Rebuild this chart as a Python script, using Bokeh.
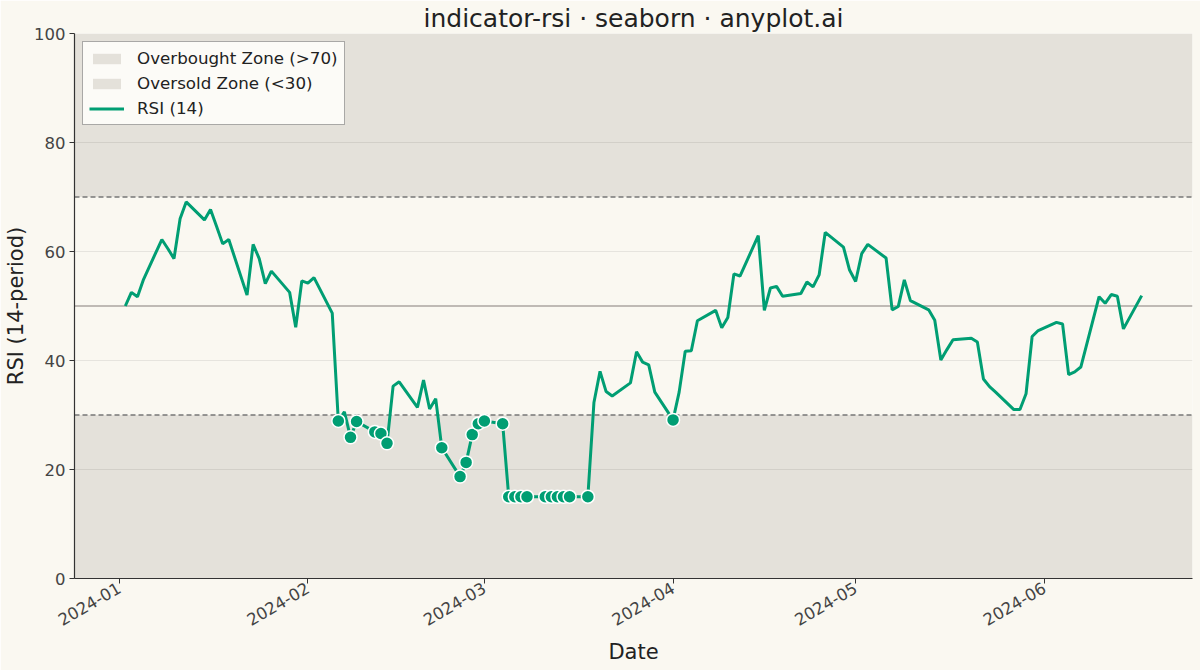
import math
import pandas as pd
from bokeh.plotting import figure
from bokeh.models import (BoxAnnotation, Span, Legend, LegendItem, Range1d,
                          FixedTicker, DatetimeTickFormatter)
from bokeh.embed import file_html
from bokeh.resources import INLINE

# business days, Jan 2 -> Jun 17 2024
dates = pd.bdate_range("2024-01-02", periods=120)

rsi_jan = [50.0, 52.5, 51.7, 54.9, 62.2, 60.5, 58.7, 66.0, 69.1, 65.8, 67.7,
           64.6, 61.4, 62.2, 52.0, 61.3, 58.7, 54.1, 56.4, 52.5, 46.1, 54.6]
rsi_feb = [54.2, 55.2, 48.7, 28.9, 30.6, 25.9, 28.8, 26.9, 26.6, 24.8, 35.3,
           36.1, 31.4, 36.4, 31.1, 33.0, 24.0, 18.7, 21.3, 26.4, 28.4]
rsi_mar = [28.9, 28.4, 15.0, 15.0, 15.0, 15.0, 15.0, 15.0, 15.0, 15.0, 15.0,
           15.0, 32.3, 38.0, 34.3, 33.5, 35.9, 41.6, 39.7, 39.2, 34.2]
rsi_apr = [29.1, 34.2, 41.7, 41.8, 47.3, 49.2, 46.0, 47.9, 55.9, 55.5, 62.9,
           49.2, 53.3, 53.6, 51.8, 52.3, 54.4, 53.5, 55.7, 63.5, 60.8, 56.6]
rsi_may = [54.5, 59.6, 61.3, 58.8, 49.3, 49.9, 54.8, 51.0, 49.3, 47.4, 40.1,
           42.0, 43.8, 44.1, 43.4, 36.6, 35.2, 34.2, 31.0, 31.0, 33.9, 44.4, 45.5]
rsi_jun = [47.0, 46.7, 37.4, 37.9, 38.8, 51.7, 50.5, 52.1, 51.8, 45.8, 51.9]
rsi = rsi_jan + rsi_feb + rsi_mar + rsi_apr + rsi_may + rsi_jun

overbought = 70
oversold = 30
midline = 50
y_ticks = [0, 20, 40, 60, 80, 100]
tick_months = ["2024-01", "2024-02", "2024-03", "2024-04", "2024-05", "2024-06"]

BG = "#FAF8F1"
ZONE = "#E4E1DA"
GREEN = "#009E73"
FONT = "DejaVu Sans"

span = dates[-1] - dates[0]
x_range = Range1d(dates[0] - 0.05 * span, dates[-1] + 0.05 * span)

p = figure(width=1200, height=670, x_axis_type="datetime", x_range=x_range,
           y_range=Range1d(0, 100), output_backend="svg", toolbar_location=None,
           background_fill_color=BG, border_fill_color=BG)
p.min_border = 0
p.min_border_left = 74
p.min_border_right = 8
p.min_border_top = 33
p.min_border_bottom = 92
p.outline_line_color = None

p.title.text = "indicator-rsi \u00b7 seaborn \u00b7 anyplot.ai"
p.title.text_font = FONT
p.title.text_font_size = "25px"
p.title.text_font_style = "normal"
p.title.text_color = "#222222"
p.title.align = "center"
p.title.standoff = 2

# zones
p.add_layout(BoxAnnotation(bottom=overbought, fill_color=ZONE, fill_alpha=1,
                           line_color=None, level="image"))
p.add_layout(BoxAnnotation(top=oversold, fill_color=ZONE, fill_alpha=1,
                           line_color=None, level="image"))
p.add_layout(Span(location=midline, dimension="width", line_color="#ABA6A0",
                  line_width=1.3, level="underlay"))
for lvl in (overbought, oversold):
    p.add_layout(Span(location=lvl, dimension="width", line_color="#777777",
                      line_width=1.5, line_dash="5 3", level="underlay"))

# legend swatches for the zones (nothing drawn in the plot itself)
nan = float("nan")
q_ob = p.quad(left=[nan], right=[nan], top=[nan], bottom=[nan],
              fill_color=ZONE, line_color=None)
q_os = p.quad(left=[nan], right=[nan], top=[nan], bottom=[nan],
              fill_color=ZONE, line_color=None)

ln = p.line(dates, rsi, line_color=GREEN, line_width=3)

os_dates = [d for d, v in zip(dates, rsi) if v < oversold]
os_vals = [v for v in rsi if v < oversold]
p.scatter(os_dates, os_vals, size=13, fill_color=GREEN, line_color="white",
          line_width=1.5)

legend = Legend(items=[LegendItem(label="Overbought Zone (>70)", renderers=[q_ob]),
                       LegendItem(label="Oversold Zone (<30)", renderers=[q_os]),
                       LegendItem(label="RSI (14)", renderers=[ln])],
                location="top_left")
legend.label_text_font = FONT
legend.label_text_font_size = "16.7px"
legend.label_text_color = "#222222"
legend.glyph_width = 35
legend.glyph_height = 13
legend.label_height = 20
legend.label_standoff = 13
legend.spacing = 5
legend.padding = 6
legend.margin = 8
legend.background_fill_color = "#FCFBF7"
legend.background_fill_alpha = 1
legend.border_line_color = "#555555"
legend.border_line_width = 1
p.add_layout(legend)

# axes
p.xgrid.visible = False
p.ygrid.grid_line_color = "#000000"
p.ygrid.grid_line_alpha = 0.08
p.ygrid.grid_line_width = 1

p.yaxis.ticker = FixedTicker(ticks=y_ticks)
p.xaxis.ticker = FixedTicker(ticks=[pd.Timestamp(m).value / 1e6 for m in tick_months])
p.xaxis.formatter = DatetimeTickFormatter(days="%Y-%m", months="%Y-%m", years="%Y-%m")
p.xaxis.major_label_orientation = math.pi / 6

for ax in (p.xaxis, p.yaxis):
    ax.axis_line_color = "#333333"
    ax.axis_line_width = 1.2
    ax.major_tick_line_color = "#333333"
    ax.major_tick_out = 5
    ax.major_tick_in = 0
    ax.minor_tick_line_color = None
    ax.major_label_text_font = FONT
    ax.major_label_text_font_size = "16.5px"
    ax.major_label_text_color = "#444444"
    ax.axis_label_text_font = FONT
    ax.axis_label_text_font_size = "21px"
    ax.axis_label_text_font_style = "normal"
    ax.axis_label_text_color = "#222222"
p.xaxis.axis_label = "Date"
p.yaxis.axis_label = "RSI (14-period)"
p.yaxis.axis_label_standoff = 3
p.xaxis.axis_label_standoff = 6
p.xaxis.major_label_standoff = 3
p.yaxis.major_label_standoff = 4

open("out.html", "w").write(file_html(p, INLINE))
